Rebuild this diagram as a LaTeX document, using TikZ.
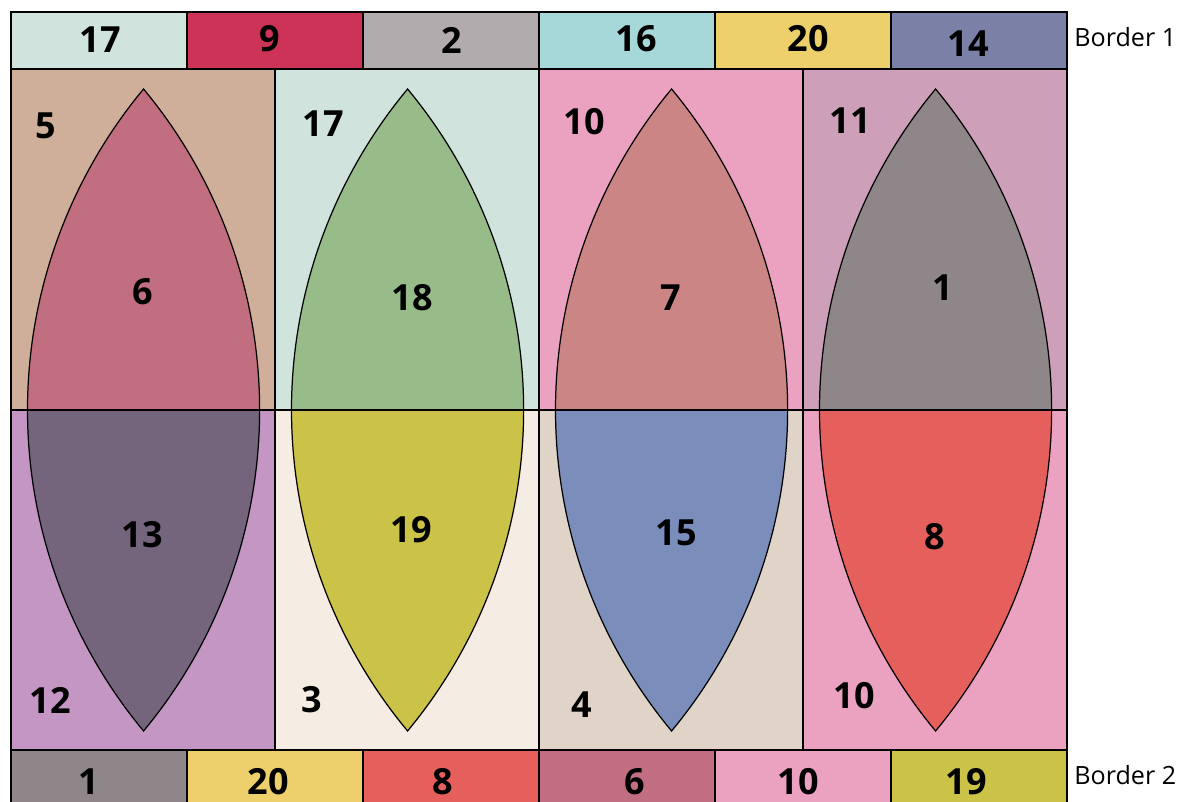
\documentclass[tikz,border=0pt]{standalone}
\usepackage{fontspec}
\setmainfont{Open Sans}
\definecolor{cMint}{HTML}{D0E3DD}
\definecolor{cCrimson}{HTML}{CC3356}
\definecolor{cGreyMauve}{HTML}{B2ABAD}
\definecolor{cCyan}{HTML}{A6D8D9}
\definecolor{cYellow}{HTML}{EDD06B}
\definecolor{cSlate}{HTML}{7A80A6}
\definecolor{cTan}{HTML}{CFAF9A}
\definecolor{cPink}{HTML}{EBA2C1}
\definecolor{cMauve}{HTML}{CE9FB8}
\definecolor{cLilac}{HTML}{C396C4}
\definecolor{cCream}{HTML}{F5ECE4}
\definecolor{cBeige}{HTML}{E0D4C8}
\definecolor{cRose}{HTML}{C06E80}
\definecolor{cSage}{HTML}{97BC8A}
\definecolor{cSalmon}{HTML}{CC8585}
\definecolor{cTaupe}{HTML}{8F8689}
\definecolor{cPlum}{HTML}{74657C}
\definecolor{cOlive}{HTML}{CAC348}
\definecolor{cBlue}{HTML}{7B8DBB}
\definecolor{cRed}{HTML}{E5605C}
\newcommand\drawlens[3]{%
  \filldraw[lens,fill=#2] (#1-116,391) arc[start angle=180,end angle=140.25,radius=502]
    arc[start angle=39.75,end angle=0,radius=502] -- cycle;
  \filldraw[lens,fill=#3] (#1-116,391) arc[start angle=180,end angle=219.75,radius=502]
    arc[start angle=-39.75,end angle=0,radius=502] -- cycle;
}
\begin{document}
\begin{tikzpicture}[x=0.02cm,y=0.02cm,
  cell/.style={draw=black,line width=0.9pt},
  lens/.style={draw=black,line width=0.7pt},
  num/.style={font=\fontsize{20.5}{24}\selectfont\bfseries,inner sep=0pt},
  side/.style={font=\fontsize{14.3}{17}\selectfont,inner sep=0pt,anchor=west}]
\useasboundingbox (0,0) rectangle (1179,801);
\clip (0,0) rectangle (1179,801);
% top border
\filldraw[cell,fill=cMint]      (11,732) rectangle (187,789);
\filldraw[cell,fill=cCrimson]   (187,732) rectangle (363,789);
\filldraw[cell,fill=cGreyMauve] (363,732) rectangle (539,789);
\filldraw[cell,fill=cCyan]      (539,732) rectangle (715,789);
\filldraw[cell,fill=cYellow]    (715,732) rectangle (891,789);
\filldraw[cell,fill=cSlate]     (891,732) rectangle (1067,789);
% bottom border
\filldraw[cell,fill=cTaupe]  (11,-10) rectangle (187,51);
\filldraw[cell,fill=cYellow] (187,-10) rectangle (363,51);
\filldraw[cell,fill=cRed]    (363,-10) rectangle (539,51);
\filldraw[cell,fill=cRose]   (539,-10) rectangle (715,51);
\filldraw[cell,fill=cPink]   (715,-10) rectangle (891,51);
\filldraw[cell,fill=cOlive]  (891,-10) rectangle (1067,51);
% grid cells
\filldraw[cell,fill=cTan]   (11,391) rectangle (275,732);
\filldraw[cell,fill=cMint]  (275,391) rectangle (539,732);
\filldraw[cell,fill=cPink]  (539,391) rectangle (803,732);
\filldraw[cell,fill=cMauve] (803,391) rectangle (1067,732);
\filldraw[cell,fill=cLilac] (11,51) rectangle (275,391);
\filldraw[cell,fill=cCream] (275,51) rectangle (539,391);
\filldraw[cell,fill=cBeige] (539,51) rectangle (803,391);
\filldraw[cell,fill=cPink]  (803,51) rectangle (1067,391);
% lenses
\drawlens{143.5}{cRose}{cPlum}
\drawlens{407.5}{cSage}{cOlive}
\drawlens{671.5}{cSalmon}{cBlue}
\drawlens{935.5}{cTaupe}{cRed}
\draw[cell] (11,391) -- (1067,391);
% top border labels
\node[num] (tb1) at (100,761) {17};
\node[num] (tb2) at (270,762) {9};
\node[num] (tb3) at (452,761) {2};
\node[num] (tb4) at (636,762) {16};
\node[num] (tb5) at (808,762) {20};
\node[num] (tb6) at (968,757) {14};
% corner labels
\node[num] (c1) at (46,675) {5};
\node[num] (c2) at (323,677) {17};
\node[num] (c3) at (584,679) {10};
\node[num] (c4) at (850,680) {11};
\node[num] (c5) at (50,101) {12};
\node[num] (c6) at (312,101) {3};
\node[num] (c7) at (582,96) {4};
\node[num] (c8) at (854,105) {10};
% lens labels
\node[num] (l1) at (143,509) {6};
\node[num] (l2) at (412,503) {18};
\node[num] (l3) at (671,503) {7};
\node[num] (l4) at (943,513) {1};
\node[num] (l5) at (142,266) {13};
\node[num] (l6) at (411,271) {19};
\node[num] (l7) at (676,268) {15};
\node[num] (l8) at (935,264) {8};
% bottom border labels
\node[num] (bb1) at (89,19) {1};
\node[num] (bb2) at (268,19) {20};
\node[num] (bb3) at (443,19) {8};
\node[num] (bb4) at (635,19) {6};
\node[num] (bb5) at (798,19) {10};
\node[num] (bb6) at (966,19) {19};
% side labels
\node[side] (s1) at (1074,764) {Border 1};
\node[side] (s2) at (1074,26) {Border 2};
\end{tikzpicture}
\end{document}
